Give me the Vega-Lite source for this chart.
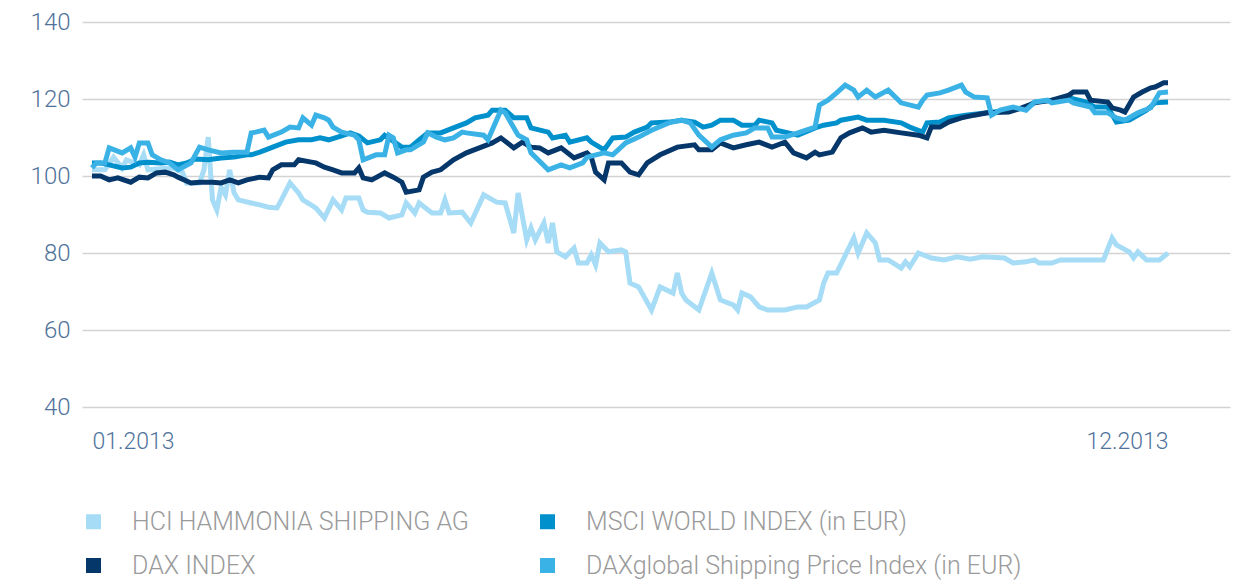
{
  "$schema": "https://vega.github.io/schema/vega-lite/v6.json",
  "width": 1148,
  "height": 385,
  "autosize": {"type": "none"},
  "padding": {"left": 82, "top": 22, "right": 13, "bottom": 178},
  "background": "white",
  "config": {"view": {"stroke": null}},
  "data": {"values": [
    {"s":"H","t":0,"v":101.6},{"s":"H","t":3,"v":101.6},{"s":"H","t":5,"v":104.9},{"s":"H","t":7,"v":102.1},{"s":"H","t":8,"v":104.2},{"s":"H","t":11,"v":102.9},{"s":"H","t":12,"v":105.5},{"s":"H","t":13,"v":101.6},{"s":"H","t":19,"v":102.1},{"s":"H","t":21,"v":101.0},{"s":"H","t":22,"v":98.2},{"s":"H","t":25,"v":98.2},{"s":"H","t":26,"v":101.6},{"s":"H","t":27,"v":110.1},{"s":"H","t":28,"v":93.8},{"s":"H","t":29,"v":91.2},{"s":"H","t":30,"v":97.1},{"s":"H","t":31,"v":95.1},{"s":"H","t":32,"v":101.6},{"s":"H","t":33,"v":95.6},{"s":"H","t":34,"v":93.8},{"s":"H","t":37,"v":93.0},{"s":"H","t":39,"v":92.5},{"s":"H","t":41,"v":91.9},{"s":"H","t":43,"v":91.7},{"s":"H","t":44,"v":93.8},{"s":"H","t":46,"v":98.2},{"s":"H","t":48,"v":95.6},{"s":"H","t":49,"v":93.8},{"s":"H","t":52,"v":91.7},{"s":"H","t":54,"v":89.1},{"s":"H","t":56,"v":93.8},{"s":"H","t":58,"v":91.2},{"s":"H","t":59,"v":94.3},{"s":"H","t":62,"v":94.3},{"s":"H","t":63,"v":91.2},{"s":"H","t":64,"v":90.6},{"s":"H","t":67,"v":90.4},{"s":"H","t":69,"v":89.1},{"s":"H","t":72,"v":89.9},{"s":"H","t":73,"v":93.0},{"s":"H","t":75,"v":90.4},{"s":"H","t":76,"v":93.0},{"s":"H","t":79,"v":90.4},{"s":"H","t":81,"v":90.4},{"s":"H","t":82,"v":93.8},{"s":"H","t":83,"v":90.4},{"s":"H","t":86,"v":90.6},{"s":"H","t":88,"v":87.8},{"s":"H","t":91,"v":95.1},{"s":"H","t":94,"v":93.2},{"s":"H","t":96,"v":93.0},{"s":"H","t":98,"v":85.2},{"s":"H","t":99,"v":95.6},{"s":"H","t":101,"v":83.4},{"s":"H","t":102,"v":86.5},{"s":"H","t":103,"v":83.4},{"s":"H","t":105,"v":87.8},{"s":"H","t":106,"v":82.6},{"s":"H","t":107,"v":87.8},{"s":"H","t":108,"v":80.3},{"s":"H","t":110,"v":79.0},{"s":"H","t":112,"v":81.3},{"s":"H","t":113,"v":77.4},{"s":"H","t":115,"v":77.4},{"s":"H","t":116,"v":79.5},{"s":"H","t":117,"v":76.9},{"s":"H","t":118,"v":82.6},{"s":"H","t":120,"v":80.3},{"s":"H","t":123,"v":80.8},{"s":"H","t":124,"v":80.3},{"s":"H","t":125,"v":72.2},{"s":"H","t":127,"v":71.2},{"s":"H","t":130,"v":65.2},{"s":"H","t":132,"v":71.2},{"s":"H","t":135,"v":69.6},{"s":"H","t":136,"v":74.8},{"s":"H","t":137,"v":69.6},{"s":"H","t":138,"v":67.8},{"s":"H","t":141,"v":65.2},{"s":"H","t":144,"v":74.8},{"s":"H","t":146,"v":67.8},{"s":"H","t":149,"v":66.5},{"s":"H","t":150,"v":65.2},{"s":"H","t":151,"v":69.6},{"s":"H","t":153,"v":68.6},{"s":"H","t":155,"v":66.0},{"s":"H","t":157,"v":65.2},{"s":"H","t":161,"v":65.2},{"s":"H","t":164,"v":66.0},{"s":"H","t":166,"v":66.0},{"s":"H","t":169,"v":67.8},{"s":"H","t":170,"v":72.2},{"s":"H","t":171,"v":74.8},{"s":"H","t":173,"v":74.8},{"s":"H","t":177,"v":83.9},{"s":"H","t":178,"v":80.0},{"s":"H","t":180,"v":85.2},{"s":"H","t":182,"v":82.6},{"s":"H","t":183,"v":78.2},{"s":"H","t":185,"v":78.2},{"s":"H","t":188,"v":76.1},{"s":"H","t":189,"v":77.7},{"s":"H","t":190,"v":76.4},{"s":"H","t":192,"v":80.0},{"s":"H","t":195,"v":78.7},{"s":"H","t":198,"v":78.2},{"s":"H","t":201,"v":79.0},{"s":"H","t":204,"v":78.4},{"s":"H","t":207,"v":79.0},{"s":"H","t":212,"v":78.7},{"s":"H","t":214,"v":77.4},{"s":"H","t":217,"v":77.7},{"s":"H","t":219,"v":78.2},{"s":"H","t":220,"v":77.4},{"s":"H","t":223,"v":77.4},{"s":"H","t":225,"v":78.2},{"s":"H","t":235,"v":78.2},{"s":"H","t":237,"v":83.9},{"s":"H","t":238,"v":82.1},{"s":"H","t":241,"v":80.3},{"s":"H","t":242,"v":78.7},{"s":"H","t":243,"v":80.3},{"s":"H","t":245,"v":78.2},{"s":"H","t":248,"v":78.2},{"s":"H","t":250,"v":80.0},

    {"s":"M","t":0,"v":103.4},{"s":"M","t":2,"v":103.4},{"s":"M","t":4,"v":102.9},{"s":"M","t":7,"v":102.1},{"s":"M","t":9,"v":102.3},{"s":"M","t":11,"v":103.4},{"s":"M","t":13,"v":103.6},{"s":"M","t":16,"v":103.4},{"s":"M","t":18,"v":103.6},{"s":"M","t":20,"v":102.9},{"s":"M","t":22,"v":103.4},{"s":"M","t":24,"v":104.4},{"s":"M","t":27,"v":104.2},{"s":"M","t":30,"v":104.7},{"s":"M","t":33,"v":104.9},{"s":"M","t":36,"v":105.5},{"s":"M","t":37,"v":105.5},{"s":"M","t":39,"v":106.2},{"s":"M","t":42,"v":107.5},{"s":"M","t":45,"v":108.8},{"s":"M","t":48,"v":109.4},{"s":"M","t":51,"v":109.4},{"s":"M","t":53,"v":109.9},{"s":"M","t":55,"v":109.4},{"s":"M","t":58,"v":110.4},{"s":"M","t":60,"v":111.2},{"s":"M","t":62,"v":110.4},{"s":"M","t":64,"v":108.6},{"s":"M","t":67,"v":109.4},{"s":"M","t":68,"v":110.6},{"s":"M","t":72,"v":107.5},{"s":"M","t":74,"v":107.5},{"s":"M","t":76,"v":109.4},{"s":"M","t":78,"v":111.2},{"s":"M","t":81,"v":111.2},{"s":"M","t":84,"v":112.5},{"s":"M","t":87,"v":113.8},{"s":"M","t":89,"v":115.1},{"s":"M","t":92,"v":115.8},{"s":"M","t":93,"v":117.1},{"s":"M","t":96,"v":117.1},{"s":"M","t":98,"v":115.1},{"s":"M","t":101,"v":115.1},{"s":"M","t":102,"v":112.5},{"s":"M","t":106,"v":111.4},{"s":"M","t":107,"v":109.9},{"s":"M","t":110,"v":110.6},{"s":"M","t":111,"v":108.8},{"s":"M","t":115,"v":109.9},{"s":"M","t":116,"v":108.8},{"s":"M","t":119,"v":106.8},{"s":"M","t":121,"v":109.9},{"s":"M","t":124,"v":110.1},{"s":"M","t":126,"v":111.4},{"s":"M","t":129,"v":112.7},{"s":"M","t":130,"v":113.8},{"s":"M","t":134,"v":114.0},{"s":"M","t":137,"v":114.5},{"s":"M","t":140,"v":114.0},{"s":"M","t":142,"v":112.7},{"s":"M","t":144,"v":113.2},{"s":"M","t":146,"v":114.5},{"s":"M","t":149,"v":114.5},{"s":"M","t":151,"v":113.2},{"s":"M","t":154,"v":113.2},{"s":"M","t":155,"v":114.5},{"s":"M","t":158,"v":113.8},{"s":"M","t":159,"v":111.9},{"s":"M","t":161,"v":111.4},{"s":"M","t":164,"v":110.6},{"s":"M","t":168,"v":112.5},{"s":"M","t":170,"v":113.2},{"s":"M","t":173,"v":113.8},{"s":"M","t":174,"v":114.5},{"s":"M","t":178,"v":115.3},{"s":"M","t":180,"v":114.5},{"s":"M","t":184,"v":114.5},{"s":"M","t":188,"v":113.8},{"s":"M","t":190,"v":112.7},{"s":"M","t":193,"v":111.4},{"s":"M","t":194,"v":113.8},{"s":"M","t":197,"v":114.0},{"s":"M","t":199,"v":115.1},{"s":"M","t":203,"v":115.8},{"s":"M","t":208,"v":116.4},{"s":"M","t":213,"v":117.1},{"s":"M","t":217,"v":117.7},{"s":"M","t":219,"v":119.2},{"s":"M","t":223,"v":119.7},{"s":"M","t":227,"v":120.3},{"s":"M","t":231,"v":119.2},{"s":"M","t":233,"v":117.9},{"s":"M","t":236,"v":117.9},{"s":"M","t":238,"v":114.0},{"s":"M","t":241,"v":114.5},{"s":"M","t":245,"v":117.1},{"s":"M","t":247,"v":119.0},{"s":"M","t":250,"v":119.2},

    {"s":"D","t":0,"v":100},{"s":"D","t":2,"v":100},{"s":"D","t":4,"v":99.0},{"s":"D","t":6,"v":99.5},{"s":"D","t":9,"v":98.4},{"s":"D","t":11,"v":99.7},{"s":"D","t":13,"v":99.5},{"s":"D","t":15,"v":100.8},{"s":"D","t":17,"v":101.0},{"s":"D","t":19,"v":100.3},{"s":"D","t":20,"v":99.7},{"s":"D","t":23,"v":98.2},{"s":"D","t":25,"v":98.4},{"s":"D","t":28,"v":98.4},{"s":"D","t":30,"v":98.2},{"s":"D","t":32,"v":99.0},{"s":"D","t":34,"v":98.2},{"s":"D","t":36,"v":99.0},{"s":"D","t":39,"v":99.7},{"s":"D","t":41,"v":99.5},{"s":"D","t":42,"v":101.6},{"s":"D","t":44,"v":102.9},{"s":"D","t":47,"v":102.9},{"s":"D","t":48,"v":104.2},{"s":"D","t":51,"v":103.6},{"s":"D","t":52,"v":103.4},{"s":"D","t":54,"v":102.3},{"s":"D","t":56,"v":101.6},{"s":"D","t":58,"v":100.8},{"s":"D","t":61,"v":100.8},{"s":"D","t":62,"v":102.1},{"s":"D","t":63,"v":99.5},{"s":"D","t":65,"v":99.0},{"s":"D","t":68,"v":100.8},{"s":"D","t":70,"v":99.7},{"s":"D","t":72,"v":98.4},{"s":"D","t":73,"v":95.8},{"s":"D","t":76,"v":96.4},{"s":"D","t":77,"v":99.7},{"s":"D","t":79,"v":101.0},{"s":"D","t":81,"v":101.6},{"s":"D","t":84,"v":104.2},{"s":"D","t":87,"v":106.0},{"s":"D","t":90,"v":107.3},{"s":"D","t":93,"v":108.6},{"s":"D","t":95,"v":109.9},{"s":"D","t":98,"v":107.3},{"s":"D","t":100,"v":108.8},{"s":"D","t":102,"v":107.5},{"s":"D","t":104,"v":107.3},{"s":"D","t":106,"v":106.0},{"s":"D","t":109,"v":107.3},{"s":"D","t":112,"v":104.7},{"s":"D","t":115,"v":106.0},{"s":"D","t":116,"v":104.9},{"s":"D","t":117,"v":101.0},{"s":"D","t":119,"v":99.0},{"s":"D","t":120,"v":103.4},{"s":"D","t":123,"v":103.4},{"s":"D","t":125,"v":101.0},{"s":"D","t":127,"v":100.3},{"s":"D","t":129,"v":103.4},{"s":"D","t":132,"v":105.5},{"s":"D","t":136,"v":107.5},{"s":"D","t":140,"v":108.1},{"s":"D","t":141,"v":106.8},{"s":"D","t":144,"v":106.8},{"s":"D","t":146,"v":108.6},{"s":"D","t":149,"v":107.3},{"s":"D","t":152,"v":108.1},{"s":"D","t":155,"v":108.8},{"s":"D","t":158,"v":107.5},{"s":"D","t":161,"v":108.8},{"s":"D","t":163,"v":106.0},{"s":"D","t":166,"v":104.7},{"s":"D","t":168,"v":106.2},{"s":"D","t":169,"v":105.5},{"s":"D","t":172,"v":106.2},{"s":"D","t":174,"v":109.9},{"s":"D","t":176,"v":111.2},{"s":"D","t":179,"v":112.5},{"s":"D","t":181,"v":111.4},{"s":"D","t":184,"v":111.9},{"s":"D","t":188,"v":111.2},{"s":"D","t":192,"v":110.6},{"s":"D","t":194,"v":109.9},{"s":"D","t":195,"v":112.7},{"s":"D","t":197,"v":112.7},{"s":"D","t":199,"v":114.0},{"s":"D","t":202,"v":115.1},{"s":"D","t":205,"v":115.8},{"s":"D","t":208,"v":116.4},{"s":"D","t":213,"v":116.6},{"s":"D","t":216,"v":117.7},{"s":"D","t":219,"v":119.0},{"s":"D","t":223,"v":119.7},{"s":"D","t":227,"v":121.0},{"s":"D","t":228,"v":121.8},{"s":"D","t":231,"v":121.8},{"s":"D","t":232,"v":119.7},{"s":"D","t":236,"v":119.2},{"s":"D","t":237,"v":117.7},{"s":"D","t":239,"v":117.1},{"s":"D","t":240,"v":116.6},{"s":"D","t":242,"v":120.5},{"s":"D","t":244,"v":121.8},{"s":"D","t":246,"v":122.9},{"s":"D","t":247,"v":123.1},{"s":"D","t":249,"v":124.2},{"s":"D","t":250,"v":124.2},

    {"s":"G","t":0,"v":102.1},{"s":"G","t":1,"v":103.4},{"s":"G","t":3,"v":103.4},{"s":"G","t":4,"v":107.3},{"s":"G","t":7,"v":106.0},{"s":"G","t":9,"v":107.3},{"s":"G","t":10,"v":104.9},{"s":"G","t":11,"v":108.6},{"s":"G","t":13,"v":108.6},{"s":"G","t":14,"v":105.5},{"s":"G","t":16,"v":104.2},{"s":"G","t":18,"v":103.4},{"s":"G","t":20,"v":101.6},{"s":"G","t":23,"v":103.4},{"s":"G","t":24,"v":105.5},{"s":"G","t":25,"v":107.5},{"s":"G","t":27,"v":106.8},{"s":"G","t":30,"v":106.0},{"s":"G","t":33,"v":106.2},{"s":"G","t":36,"v":106.2},{"s":"G","t":37,"v":111.2},{"s":"G","t":38,"v":111.4},{"s":"G","t":40,"v":111.9},{"s":"G","t":41,"v":110.1},{"s":"G","t":44,"v":111.4},{"s":"G","t":46,"v":112.7},{"s":"G","t":48,"v":112.5},{"s":"G","t":49,"v":115.1},{"s":"G","t":51,"v":113.2},{"s":"G","t":52,"v":115.8},{"s":"G","t":54,"v":115.1},{"s":"G","t":55,"v":114.5},{"s":"G","t":56,"v":112.7},{"s":"G","t":58,"v":111.4},{"s":"G","t":61,"v":110.6},{"s":"G","t":62,"v":109.4},{"s":"G","t":63,"v":104.2},{"s":"G","t":66,"v":105.5},{"s":"G","t":68,"v":105.5},{"s":"G","t":69,"v":110.6},{"s":"G","t":70,"v":109.9},{"s":"G","t":71,"v":106.0},{"s":"G","t":73,"v":106.8},{"s":"G","t":74,"v":106.8},{"s":"G","t":77,"v":108.8},{"s":"G","t":78,"v":111.2},{"s":"G","t":80,"v":110.1},{"s":"G","t":82,"v":109.4},{"s":"G","t":84,"v":109.9},{"s":"G","t":86,"v":111.4},{"s":"G","t":87,"v":111.2},{"s":"G","t":91,"v":110.6},{"s":"G","t":92,"v":109.4},{"s":"G","t":95,"v":117.1},{"s":"G","t":96,"v":116.4},{"s":"G","t":99,"v":110.6},{"s":"G","t":101,"v":109.4},{"s":"G","t":102,"v":106.0},{"s":"G","t":106,"v":101.6},{"s":"G","t":109,"v":102.9},{"s":"G","t":111,"v":102.1},{"s":"G","t":114,"v":103.4},{"s":"G","t":115,"v":104.9},{"s":"G","t":119,"v":106.0},{"s":"G","t":121,"v":105.5},{"s":"G","t":124,"v":108.6},{"s":"G","t":127,"v":110.1},{"s":"G","t":130,"v":111.9},{"s":"G","t":134,"v":113.8},{"s":"G","t":137,"v":114.5},{"s":"G","t":139,"v":113.8},{"s":"G","t":141,"v":110.6},{"s":"G","t":144,"v":107.5},{"s":"G","t":146,"v":109.4},{"s":"G","t":149,"v":110.6},{"s":"G","t":152,"v":111.2},{"s":"G","t":154,"v":112.5},{"s":"G","t":157,"v":112.5},{"s":"G","t":158,"v":110.1},{"s":"G","t":161,"v":110.1},{"s":"G","t":164,"v":111.2},{"s":"G","t":168,"v":112.7},{"s":"G","t":169,"v":118.4},{"s":"G","t":171,"v":119.7},{"s":"G","t":173,"v":121.6},{"s":"G","t":175,"v":123.6},{"s":"G","t":177,"v":122.3},{"s":"G","t":178,"v":120.5},{"s":"G","t":180,"v":122.3},{"s":"G","t":182,"v":120.5},{"s":"G","t":185,"v":122.3},{"s":"G","t":188,"v":119.0},{"s":"G","t":192,"v":117.9},{"s":"G","t":193,"v":119.7},{"s":"G","t":194,"v":121.0},{"s":"G","t":197,"v":121.6},{"s":"G","t":199,"v":122.3},{"s":"G","t":202,"v":123.6},{"s":"G","t":203,"v":121.8},{"s":"G","t":205,"v":120.5},{"s":"G","t":208,"v":120.3},{"s":"G","t":209,"v":115.8},{"s":"G","t":211,"v":117.1},{"s":"G","t":214,"v":117.9},{"s":"G","t":217,"v":117.1},{"s":"G","t":219,"v":119.2},{"s":"G","t":222,"v":119.7},{"s":"G","t":223,"v":119.0},{"s":"G","t":227,"v":119.7},{"s":"G","t":228,"v":119.0},{"s":"G","t":232,"v":117.9},{"s":"G","t":233,"v":116.4},{"s":"G","t":236,"v":116.4},{"s":"G","t":238,"v":115.1},{"s":"G","t":240,"v":114.5},{"s":"G","t":243,"v":116.4},{"s":"G","t":246,"v":117.7},{"s":"G","t":248,"v":121.6},{"s":"G","t":250,"v":121.8}
  ]},
  "mark": {"type": "line", "strokeWidth": 5, "strokeJoin": "miter", "strokeCap": "butt"},
  "encoding": {
    "x": {
      "field": "t", "type": "quantitative",
      "scale": {"domain": [-2.32, 264.4], "nice": false, "zero": false},
      "axis": {
        "title": null, "grid": false, "domain": false, "ticks": false,
        "values": [0, 250],
        "labelExpr": "datum.value == 0 ? '01.2013' : '12.2013'",
        "labelAlign": {"condition": {"test": "datum.value == 0", "value": "left"}, "value": "right"},
        "labelFont": "Roboto", "labelFontWeight": 300,
        "labelFontSize": 23, "labelColor": "#4f729b", "labelPadding": 23
      }
    },
    "y": {
      "field": "v", "type": "quantitative",
      "scale": {"domain": [40, 140], "nice": false, "zero": false},
      "axis": {
        "title": null, "values": [40, 60, 80, 100, 120, 140],
        "domain": false, "ticks": false,
        "gridColor": "#d3d3d3", "gridWidth": 1.5,
        "labelFont": "Roboto", "labelFontWeight": 300,
        "labelFontSize": 24, "labelColor": "#4f729b", "labelPadding": 12
      }
    },
    "color": {
      "field": "s", "type": "nominal",
      "scale": {"domain": ["H", "M", "D", "G"], "range": ["#a6dcf6", "#0091cd", "#06376b", "#3ab2e6"]},
      "legend": {
        "title": null, "orient": "none", "legendX": -1, "legendY": 487,
        "direction": "horizontal", "columns": 2, "columnPadding": 66, "rowPadding": 18,
        "symbolType": "square", "symbolSize": 225, "symbolStrokeWidth": 0,
        "labelOffset": 26, "labelLimit": 600,
        "labelFont": "Roboto", "labelFontWeight": 300,
        "labelFontSize": 25, "labelColor": "#9a9a9a",
        "labelExpr": "datum.label == 'H' ? 'HCI HAMMONIA SHIPPING AG' : datum.label == 'M' ? 'MSCI WORLD INDEX (in EUR)' : datum.label == 'D' ? 'DAX INDEX' : 'DAXglobal Shipping Price Index (in EUR)'",
        "encode": {"symbols": {"update": {"fill": {"scale": "color", "field": "value"}, "stroke": {"value": "transparent"}, "opacity": {"value": 1}}}}
      }
    }
  }
}
